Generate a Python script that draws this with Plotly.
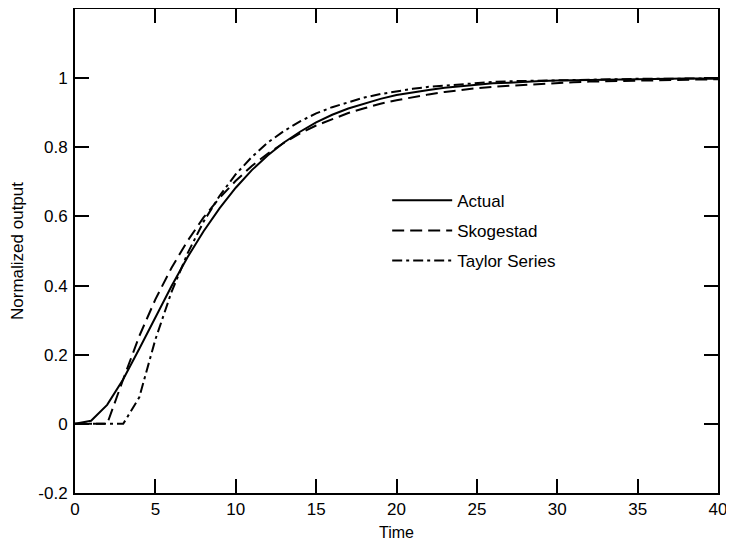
import plotly.graph_objects as go

time = list(range(0, 41))

actual = [0.0, 0.009, 0.055, 0.129, 0.217, 0.309, 0.398, 0.482, 0.557, 0.624,
          0.683, 0.734, 0.777, 0.814, 0.845, 0.872, 0.894, 0.912, 0.927, 0.940,
          0.951, 0.959, 0.966, 0.972, 0.977, 0.981, 0.985, 0.987, 0.990, 0.992,
          0.993, 0.994, 0.995, 0.996, 0.997, 0.997, 0.998, 0.998, 0.999, 0.999,
          0.999]

skogestad = [0.0, 0.0, 0.0, 0.129, 0.254, 0.360, 0.451, 0.529, 0.597, 0.654,
             0.703, 0.746, 0.782, 0.813, 0.840, 0.863, 0.882, 0.899, 0.913, 0.926,
             0.936, 0.945, 0.953, 0.960, 0.966, 0.971, 0.975, 0.978, 0.981, 0.984,
             0.986, 0.988, 0.990, 0.991, 0.993, 0.994, 0.995, 0.995, 0.996, 0.997,
             0.997]

taylor = [0.0, 0.0, 0.0, 0.0, 0.077, 0.244, 0.381, 0.493, 0.585, 0.660,
          0.722, 0.772, 0.814, 0.847, 0.875, 0.898, 0.916, 0.931, 0.944, 0.954,
          0.962, 0.969, 0.975, 0.979, 0.983, 0.986, 0.989, 0.991, 0.992, 0.994,
          0.995, 0.996, 0.997, 0.997, 0.998, 0.998, 0.998, 0.999, 0.999, 0.999,
          0.999]

series_names = ["Actual", "Skogestad", "Taylor Series"]
x_ticks = [0, 5, 10, 15, 20, 25, 30, 35, 40]
y_ticks = [-0.2, 0, 0.2, 0.4, 0.6, 0.8, 1]
y_tick_text = ["-0.2", "0", "0.2", "0.4", "0.6", "0.8", "1"]

FONT = "Liberation Sans, Arial, Helvetica, sans-serif"

fig = go.Figure()
styles = [("solid", actual), ("12px,6px", skogestad), ("10px,4px,3px,4px", taylor)]
for name, (dash, ys) in zip(series_names, styles):
    fig.add_trace(go.Scatter(
        x=time, y=ys, mode="lines", name=name, legendgroup=name,
        line=dict(color="black", width=2, dash=dash),
    ))

axis_common = dict(
    showgrid=False, zeroline=False, showline=True, linecolor="black",
    linewidth=2, mirror="allticks", ticks="inside", ticklen=14,
    tickwidth=1.5, tickcolor="black",
    tickfont=dict(family=FONT, size=17, color="black"),
)

fig.update_xaxes(
    range=[0, 40], tickvals=x_ticks, ticktext=[str(v) for v in x_ticks],
    automargin=True,
    title=dict(text="Time", font=dict(family=FONT, size=16, color="black"), standoff=14),
    **axis_common,
)
fig.update_yaxes(
    range=[-0.2, 1.2], tickvals=y_ticks, ticktext=y_tick_text,
    ticklabelstandoff=2, automargin=False,
    title=dict(text="Normalized output", font=dict(family=FONT, size=17, color="black"), standoff=11),
    **axis_common,
)

fig.update_layout(
    width=726, height=533,
    margin=dict(l=67, r=16, t=1, b=48, autoexpand=False),
    paper_bgcolor="white", plot_bgcolor="white",
    showlegend=True,
    legend=dict(
        x=0.4855, y=0.641, xanchor="left", yanchor="top",
        bgcolor="rgba(0,0,0,0)", borderwidth=0,
        font=dict(family=FONT, size=17, color="black"),
        itemwidth=60, tracegroupgap=5,
    ),
)

fig.write_html("out.html")
